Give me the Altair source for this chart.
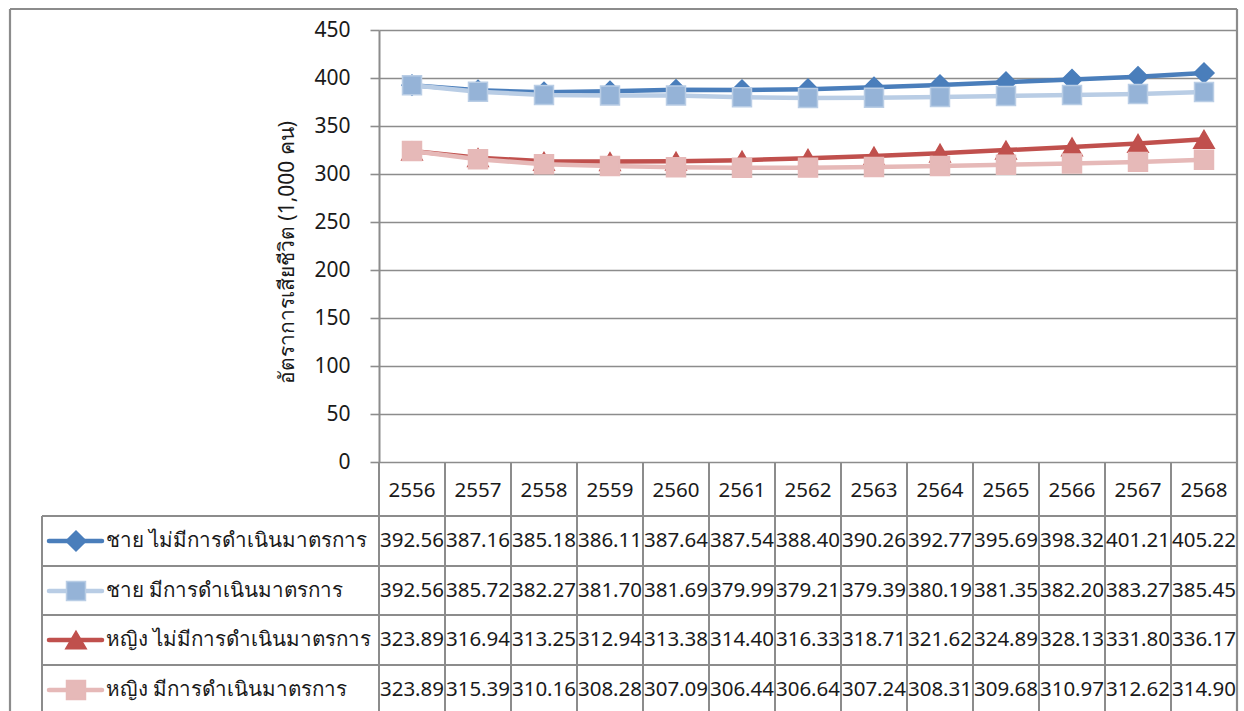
import altair as alt
import pandas as pd

years = ["2556", "2557", "2558", "2559", "2560", "2561", "2562",
         "2563", "2564", "2565", "2566", "2567", "2568"]
series_names = [
    "ชาย ไม่มีการดำเนินมาตรการ",
    "ชาย มีการดำเนินมาตรการ",
    "หญิง ไม่มีการดำเนินมาตรการ",
    "หญิง มีการดำเนินมาตรการ",
]
male_no = [392.56, 387.16, 385.18, 386.11, 387.64, 387.54, 388.40,
           390.26, 392.77, 395.69, 398.32, 401.21, 405.22]
male_yes = [392.56, 385.72, 382.27, 381.70, 381.69, 379.99, 379.21,
            379.39, 380.19, 381.35, 382.20, 383.27, 385.45]
female_no = [323.89, 316.94, 313.25, 312.94, 313.38, 314.40, 316.33,
             318.71, 321.62, 324.89, 328.13, 331.80, 336.17]
female_yes = [323.89, 315.39, 310.16, 308.28, 307.09, 306.44, 306.64,
              307.24, 308.31, 309.68, 310.97, 312.62, 314.90]
y_ticks = [0, 50, 100, 150, 200, 250, 300, 350, 400, 450]
y_title = "อัตราการเสียชีวิต (1,000 คน)"

all_series = [male_no, male_yes, female_no, female_yes]
rows = []
for name, vals in zip(series_names, all_series):
    for yr, v in zip(years, vals):
        rows.append({"series": name, "year": yr, "value": v})
df = pd.DataFrame(rows)
df_years = pd.DataFrame({"year": years})
df_names = pd.DataFrame({"series": series_names})
one = alt.Data(values=[{"k": 0}])

FONT = "Noto Sans"
GRID = "#8C8C8C"

styles = [
    dict(line="#4A7EBB", fill="#4A7EBB", stroke="#4A7EBB", shape="diamond", size=400),
    dict(line="#B9CDE5", fill="#95B3D7", stroke="#B9CDE5", shape="square", size=360),
    dict(line="#C0504D", fill="#C0504D", stroke="#C0504D", shape="triangle-up", size=420),
    dict(line="#E6B9B8", fill="#E6B9B8", stroke="#E6B9B8", shape="square", size=360),
]

W, H = 858, 681
PLOT_H = 432
row_centers = [511, 561, 610, 660]   # relative to plot top
header_center = 461
row_lines = [486, 536, 585, 635]

xscale = alt.Scale(domain=years, type="band", paddingInner=0, paddingOuter=0)
yscale = alt.Scale(domain=[0, 450], range=[PLOT_H, 0])


def X(pos=0.5):
    return alt.X("year:N", scale=xscale, axis=None, bandPosition=pos, sort=years)


layers = []

# y axis carrier (invisible)
axis_layer = alt.Chart(df).mark_point(opacity=0).encode(
    x=X(),
    y=alt.Y("value:Q", scale=yscale,
            axis=alt.Axis(values=y_ticks, title=y_title, grid=True,
                          gridColor=GRID, gridWidth=1.6,
                          domainColor=GRID, domainWidth=2,
                          tickColor=GRID, tickWidth=1.6, tickSize=9,
                          labelPadding=20, labelFontSize=21, labelFont=FONT,
                          labelColor="#1a1a1a",
                          titleFont=FONT, titleFontSize=21, titleFontWeight="normal",
                          titleColor="#1a1a1a", titleAngle=270,
                          titleAlign="center", titleBaseline="middle",
                          titleX=-92, titleY=222)),
)
layers.append(axis_layer)

# table vertical column lines
layers.append(alt.Chart(df_years).mark_rule(color=GRID, strokeWidth=2).encode(
    x=X(0), y=alt.value(PLOT_H), y2=alt.value(H)))
# table horizontal lines
for ry in row_lines:
    layers.append(alt.Chart(one).mark_rule(color=GRID, strokeWidth=2).encode(
        x=alt.value(-337), x2=alt.value(W), y=alt.value(ry)))
# table left line
layers.append(alt.Chart(one).mark_rule(color=GRID, strokeWidth=2).encode(
    x=alt.value(-337), y=alt.value(row_lines[0]), y2=alt.value(H)))
# outer border: top, left, right
layers.append(alt.Chart(one).mark_rule(color=GRID, strokeWidth=2.2).encode(
    x=alt.value(-369), x2=alt.value(W), y=alt.value(-21)))
layers.append(alt.Chart(one).mark_rule(color=GRID, strokeWidth=2.2).encode(
    x=alt.value(-369), y=alt.value(-21), y2=alt.value(H)))
layers.append(alt.Chart(one).mark_rule(color=GRID, strokeWidth=2.2).encode(
    x=alt.value(W), y=alt.value(-21), y2=alt.value(H)))

# series lines and markers
for name, st in zip(series_names, styles):
    base = alt.Chart(df).transform_filter(alt.datum.series == name)
    layers.append(base.mark_line(color=st["line"], strokeWidth=4.5,
                                 strokeJoin="round", strokeCap="round").encode(
        x=X(), y=alt.Y("value:Q", scale=yscale)))
    layers.append(base.mark_point(shape=st["shape"], size=st["size"], filled=True,
                                  fill=st["fill"], stroke=st["stroke"], strokeWidth=1.5,
                                  opacity=1).encode(
        x=X(), y=alt.Y("value:Q", scale=yscale)))

# table header (years)
layers.append(alt.Chart(df_years).mark_text(font=FONT, fontSize=20.5, color="#1a1a1a",
                                            align="center", baseline="middle").encode(
    x=X(), y=alt.value(header_center), text="year:N"))

# table values and legend column
for i, (name, st) in enumerate(zip(series_names, styles)):
    yc = row_centers[i]
    layers.append(alt.Chart(df).transform_filter(alt.datum.series == name)
                  .mark_text(font=FONT, fontSize=20.5, color="#1a1a1a",
                             align="center", baseline="middle").encode(
        x=X(), y=alt.value(yc), text=alt.Text("value:Q", format=".2f")))
    leg = alt.Chart(df_names).transform_filter(alt.datum.series == name)
    layers.append(leg.mark_rule(color=st["line"], strokeWidth=4.5, strokeCap="round").encode(
        x=alt.value(-330), x2=alt.value(-277), y=alt.value(yc)))
    layers.append(leg.mark_point(shape=st["shape"], size=st["size"], filled=True,
                                 fill=st["fill"], stroke=st["stroke"], strokeWidth=1.5,
                                 opacity=1).encode(
        x=alt.value(-303), y=alt.value(yc)))
    layers.append(leg.mark_text(font=FONT, fontSize=20.6, color="#1a1a1a",
                                align="left", baseline="middle").encode(
        x=alt.value(-273), y=alt.value(yc), text="series:N"))

chart = alt.layer(*layers).properties(
    width=W, height=H,
    autosize=alt.AutoSizeParams(type="none"),
    padding={"left": 379, "top": 30, "right": 7, "bottom": 0},
    background="#FFFFFF",
).configure_view(strokeWidth=0)

chart.save("out.html", embed_options={"renderer": "svg", "actions": False})
